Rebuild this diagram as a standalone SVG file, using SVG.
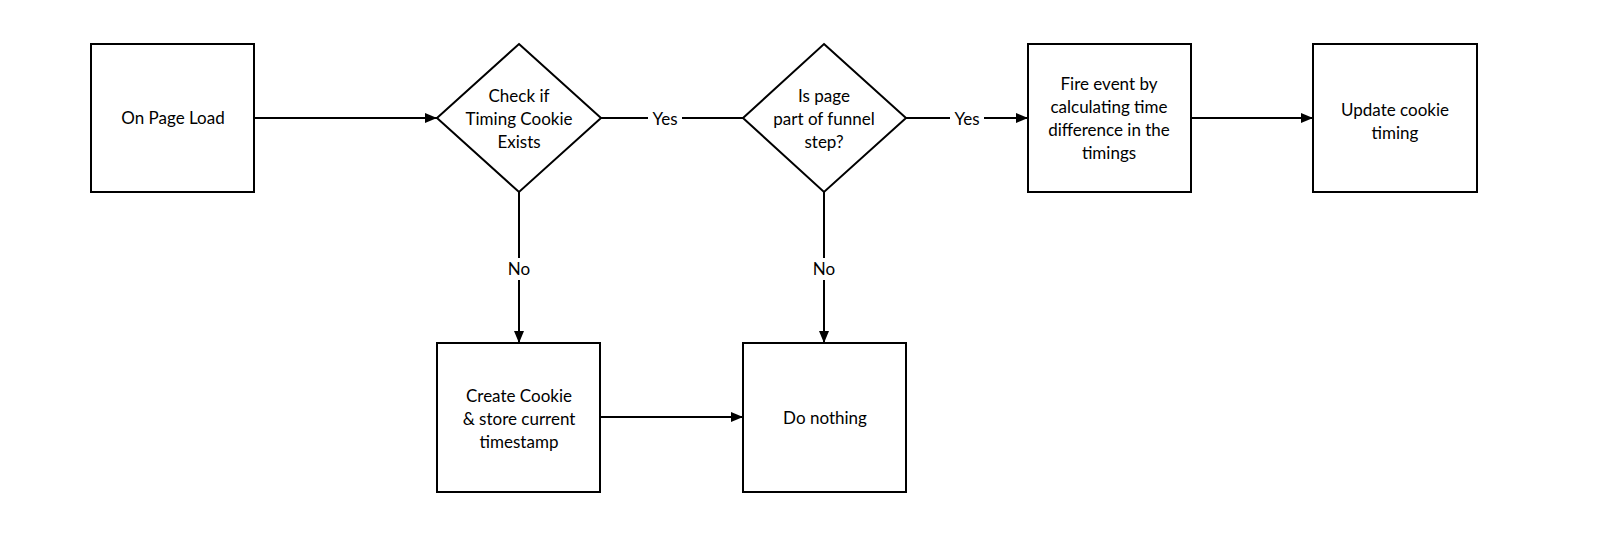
<svg xmlns="http://www.w3.org/2000/svg" width="1606" height="550" viewBox="0 0 1606 550">
<style>
.n{fill:#fff;stroke:#000;stroke-width:2}
.c{stroke:#000;stroke-width:2;fill:none}
text{font-family:Lato,"Liberation Sans",sans-serif;font-size:17px;fill:#000;text-anchor:middle}
.l{fill:#fff}
</style>
<defs><marker id="a" markerWidth="12" markerHeight="10" refX="12" refY="5" orient="auto" markerUnits="userSpaceOnUse"><path d="M0,0L12,5L0,10z" fill="#000"/></marker></defs>
<rect width="1606" height="550" fill="#fff"/>
<g id="connectors">
<path class="c" d="M254,118H437" marker-end="url(#a)"/>
<path class="c" d="M601,118H743"/>
<rect class="l" x="648" y="108" width="34" height="22"/><text x="665" y="125">Yes</text>
<path class="c" d="M906,118H1028" marker-end="url(#a)"/>
<rect class="l" x="950" y="108" width="34" height="22"/><text x="967" y="125">Yes</text>
<path class="c" d="M1191,118H1313" marker-end="url(#a)"/>
<path class="c" d="M519,192V343" marker-end="url(#a)"/>
<rect class="l" x="504" y="258" width="30" height="22"/><text x="519" y="275">No</text>
<path class="c" d="M824,192V343" marker-end="url(#a)"/>
<rect class="l" x="809" y="258" width="30" height="22"/><text x="824" y="275">No</text>
<path class="c" d="M600,417H743" marker-end="url(#a)"/>
</g>
<g id="n1"><rect class="n" x="91" y="44" width="163" height="148"/><text x="173" y="124">On Page Load</text></g>
<g id="n2"><path class="n" d="M519,44L601,118L519,192L437,118Z"/><text x="519" y="102">Check if</text><text x="519" y="125">Timing Cookie</text><text x="519" y="148">Exists</text></g>
<g id="n3"><path class="n" d="M824,44L906,118L824,192L743,118Z"/><text x="824" y="102">Is page</text><text x="824" y="125">part of funnel</text><text x="824" y="148">step?</text></g>
<g id="n4"><rect class="n" x="1028" y="44" width="163" height="148"/><text x="1109" y="90">Fire event by</text><text x="1109" y="113">calculating time</text><text x="1109" y="136">difference in the</text><text x="1109" y="159">timings</text></g>
<g id="n5"><rect class="n" x="1313" y="44" width="164" height="148"/><text x="1395" y="116">Update cookie</text><text x="1395" y="139">timing</text></g>
<g id="n6"><rect class="n" x="437" y="343" width="163" height="149"/><text x="519" y="402">Create Cookie</text><text x="519" y="425">&amp; store current</text><text x="519" y="448">timestamp</text></g>
<g id="n7"><rect class="n" x="743" y="343" width="163" height="149"/><text x="825" y="424">Do nothing</text></g>
</svg>
